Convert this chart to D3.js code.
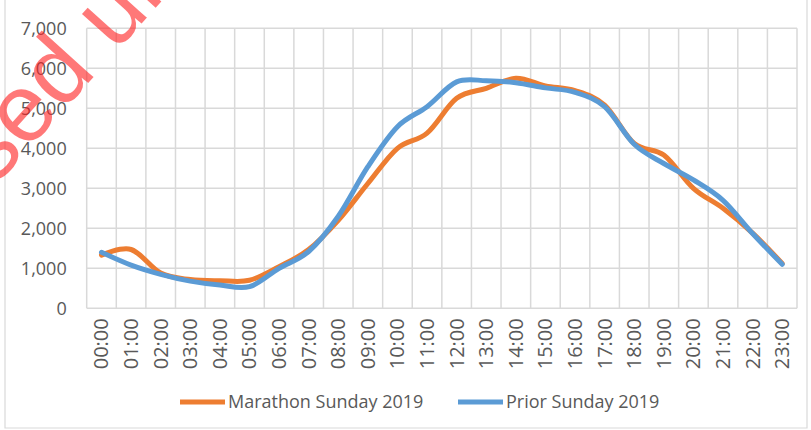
<!DOCTYPE html>
<meta charset="utf-8">
<style>
body { margin: 0; background: #fff; }
.axis text { font: 18px "Open Sans", sans-serif; fill: #595959; }
.axis.x text { font-size: 20px; }
.axis path, .axis line { stroke: none; }
.legend text { font: 18px "Open Sans", sans-serif; fill: #595959; }
.grid line { stroke: #d9d9d9; stroke-width: 1.5; }
</style>
<body>
<script src="https://d3js.org/d3.v7.min.js"></script>
<script>

var hours = ["00:00","01:00","02:00","03:00","04:00","05:00","06:00","07:00",
             "08:00","09:00","10:00","11:00","12:00","13:00","14:00","15:00",
             "16:00","17:00","18:00","19:00","20:00","21:00","22:00","23:00"];

var marathon = [1330,1470,880,720,690,700,1040,1470,2200,3120,4000,4380,
                5250,5500,5750,5560,5440,5080,4120,3830,3000,2500,1880,1120];

var prior = [1400,1080,850,680,580,540,1000,1420,2300,3540,4540,5040,
             5660,5690,5640,5510,5400,5040,4100,3620,3210,2700,1870,1100];

var yTicks = [0,1000,2000,3000,4000,5000,6000,7000];

var seriesNames = ["Marathon Sunday 2019", "Prior Sunday 2019"];
var colors = ["#ed7d31", "#5b9bd5"];

var width = 811, height = 430;
var plot = {left: 86.7, right: 797, top: 28.3, bottom: 308.3};

var svg = d3.select("body").append("svg")
    .attr("width", width)
    .attr("height", height);

// chart border
svg.append("path")
    .attr("d", "M5,0V428H807V0")
    .attr("fill", "none")
    .attr("stroke", "#d9d9d9")
    .attr("stroke-width", 1.2);

var x = d3.scaleBand()
    .domain(hours)
    .range([plot.left, plot.right]);

var y = d3.scaleLinear()
    .domain([0, 7000])
    .range([plot.bottom, plot.top]);

var cx = function(h) { return x(h) + x.bandwidth() / 2; };

// gridlines
var grid = svg.append("g").attr("class", "grid");
grid.selectAll(".h")
    .data(yTicks)
  .enter().append("line")
    .attr("x1", plot.left).attr("x2", plot.right)
    .attr("y1", y).attr("y2", y);

grid.selectAll(".v")
    .data(hours.concat(["end"]))
  .enter().append("line")
    .attr("x1", function(d, i) { return plot.left + i * x.bandwidth(); })
    .attr("x2", function(d, i) { return plot.left + i * x.bandwidth(); })
    .attr("y1", plot.top).attr("y2", plot.bottom);

// axes
svg.append("g")
    .attr("class", "axis y")
    .attr("transform", "translate(" + plot.left + ",0)")
    .call(d3.axisLeft(y).tickValues(yTicks).tickFormat(d3.format(",")).tickSize(0).tickPadding(20))
    .call(function(g) { g.select(".domain").remove(); });

svg.append("g")
    .attr("class", "axis x")
    .attr("transform", "translate(0," + plot.bottom + ")")
    .call(d3.axisBottom(x).tickSize(0))
    .call(function(g) { g.select(".domain").remove(); })
  .selectAll("text")
    .attr("transform", "rotate(-90)")
    .attr("x", -10)
    .attr("y", 0)
    .attr("dy", "0.35em")
    .style("text-anchor", "end");

// lines
var line = d3.line()
    .x(function(d, i) { return cx(hours[i]); })
    .y(function(d) { return y(d); })
    .curve(d3.curveCardinal.tension(0));

svg.selectAll(".series")
    .data([marathon, prior])
  .enter().append("path")
    .attr("class", "series")
    .attr("d", line)
    .attr("fill", "none")
    .attr("stroke", function(d, i) { return colors[i]; })
    .attr("stroke-width", 5)
    .attr("stroke-linecap", "round")
    .attr("stroke-linejoin", "round");

// legend
var legendX = [180, 458];
var legend = svg.append("g").attr("class", "legend")
  .selectAll("g")
    .data(seriesNames)
  .enter().append("g")
    .attr("transform", function(d, i) { return "translate(" + legendX[i] + ",402)"; });

legend.append("line")
    .attr("x1", 0).attr("x2", 45)
    .attr("stroke", function(d, i) { return colors[i]; })
    .attr("stroke-width", 5);

legend.append("text")
    .attr("x", 48)
    .attr("dy", "0.35em")
    .text(function(d) { return d; });

// watermark
var wm = svg.append("text")
    .attr("transform", "translate(62,112) rotate(-48)")
    .style("font", "96px 'Liberation Sans', Arial, sans-serif")
    .attr("fill", "rgba(255,30,30,0.6)")
    .text("Released under FOI");
wm.attr("x", -wm.node().getSubStringLength(0, 7));

</script>
</body>
